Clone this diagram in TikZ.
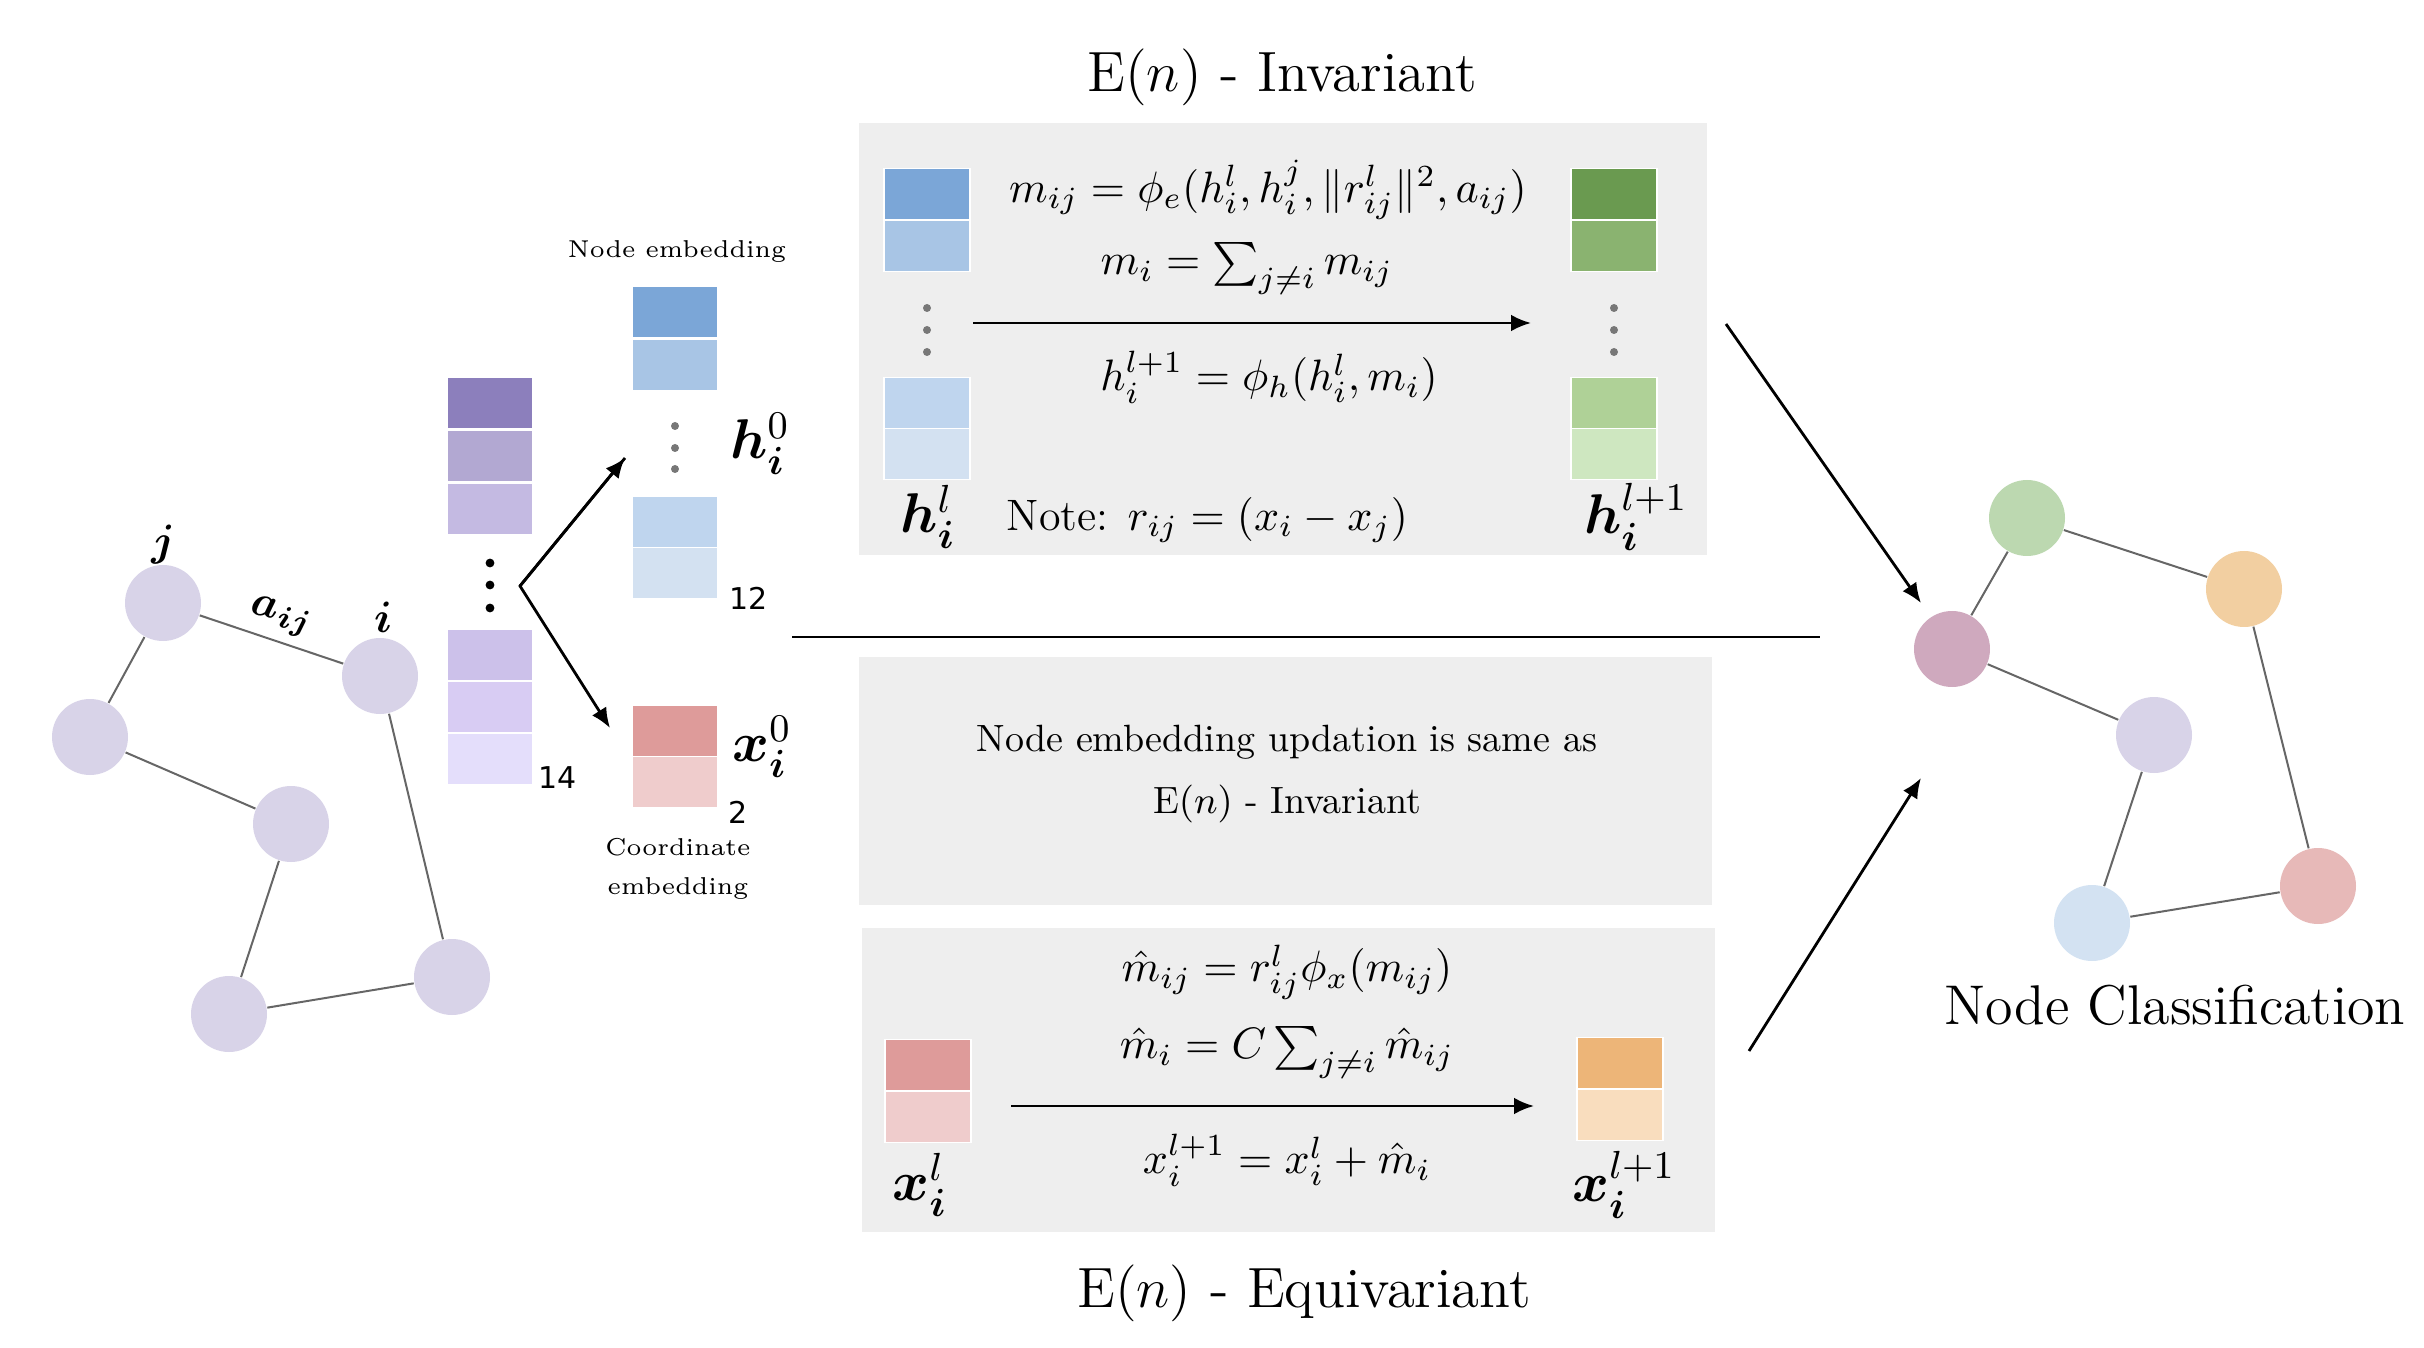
\RequirePackage{fix-cm}
\documentclass[tikz,border=0pt]{standalone}
\usepackage{amsmath}
\usepackage{bm}
\usepackage{fontspec}
\newfontfamily\numfont{DejaVu Sans}
\usetikzlibrary{arrows.meta}
\definecolor{pA}{HTML}{8C7FBC}
\definecolor{pB}{HTML}{B2A8D2}
\definecolor{pC}{HTML}{C4BAE2}
\definecolor{pD}{HTML}{CCC1EA}
\definecolor{pE}{HTML}{D8CCF3}
\definecolor{pF}{HTML}{E4DEFB}
\definecolor{bA}{HTML}{7BA6D7}
\definecolor{bB}{HTML}{A8C5E5}
\definecolor{bC}{HTML}{BFD5EE}
\definecolor{bD}{HTML}{D3E1F1}
\definecolor{gA}{HTML}{6A9A50}
\definecolor{gB}{HTML}{8AB370}
\definecolor{gC}{HTML}{AFD197}
\definecolor{gD}{HTML}{CEE7C0}
\definecolor{rA}{HTML}{DE9B9A}
\definecolor{rB}{HTML}{EFCCCC}
\definecolor{oA}{HTML}{EDB578}
\definecolor{oB}{HTML}{F9DDBE}
\definecolor{boxgray}{HTML}{EEEEEE}
\definecolor{lav}{HTML}{D8D3E8}
\definecolor{edgegray}{HTML}{666666}
\definecolor{dotgray}{HTML}{777777}
\definecolor{cMauve}{HTML}{CFA9BE}
\definecolor{cGreen}{HTML}{BCD8B0}
\definecolor{cOrange}{HTML}{F2CFA1}
\definecolor{cBlue}{HTML}{D3E2F2}
\definecolor{cPink}{HTML}{E7B9B8}
\begin{document}
\begin{tikzpicture}[x=0.25pt,y=-0.25pt,
  cell/.style={rectangle,draw=white,line width=0.4pt,minimum width=21.5pt,minimum height=12.75pt,inner sep=0pt},
  gnode/.style={circle,minimum size=19pt,inner sep=0pt,fill=lav},
  gedge/.style={draw=edgegray,line width=0.5pt},
  arr/.style={-{Latex[length=5pt,width=4.2pt]},line width=0.7pt},
  gbox/.style={fill=boxgray,draw=none},
  gdot/.style={circle,fill=dotgray,minimum size=2pt,inner sep=0pt},
  bdot/.style={circle,fill=black,minimum size=2.2pt,inner sep=0pt},
  eqn/.style={font=\fontsize{11}{13}\selectfont,inner sep=0pt},
  big/.style={font=\fontsize{14.2}{17}\selectfont,inner sep=0pt},
  small/.style={font=\fontsize{6.1}{9.6}\selectfont,inner sep=0pt,align=center},
  num/.style={font=\numfont\fontsize{7.5}{9}\selectfont,inner sep=0pt},
  blab/.style={font=\fontsize{14}{16}\selectfont,inner sep=0pt}
]
\useasboundingbox (0,0) rectangle (2424,1348);

% gray boxes
\node[gbox,minimum width=212pt,minimum height=108pt,inner sep=0pt] (topbox) at (1283,339) {};
\node[gbox,minimum width=213.25pt,minimum height=62pt,inner sep=0pt] (midbox) at (1285.5,781) {};
\node[gbox,minimum width=213.25pt,minimum height=76pt,inner sep=0pt] (botbox) at (1288.5,1080) {};

% ---------- left input graph ----------
\node[gnode] (gj) at (163,603) {};
\node[gnode] (gi) at (380,676) {};
\node[gnode] (gl) at (90,737) {};
\node[gnode] (gm) at (291,824) {};
\node[gnode] (gbl) at (229,1014) {};
\node[gnode] (gbr) at (452,977) {};
\draw[gedge] (gj) -- (gi);
\draw[gedge] (gj) -- (gl);
\draw[gedge] (gl) -- (gm);
\draw[gedge] (gm) -- (gbl);
\draw[gedge] (gbl) -- (gbr);
\draw[gedge] (gbr) -- (gi);
\node[font=\fontsize{11}{13}\selectfont,inner sep=0pt] (lj) at (163,545) {$\bm{j}$};
\node[font=\fontsize{11}{13}\selectfont,inner sep=0pt,rotate=-12] (laij) at (281,617) {$\bm{a_{ij}}$};
\node[font=\fontsize{11}{13}\selectfont,inner sep=0pt] (li) at (383,617) {$\bm{i}$};

% ---------- purple input stack ----------
\node[cell,fill=pA] (p1) at (490,403) {};
\node[cell,fill=pB] (p2) at (490,456) {};
\node[cell,fill=pC] (p3) at (490,509) {};
\node[bdot] (pd1) at (490,563) {};
\node[bdot] (pd2) at (490,585) {};
\node[bdot] (pd3) at (490,608) {};
\node[cell,fill=pD] (p4) at (490,655) {};
\node[cell,fill=pE] (p5) at (490,707) {};
\node[cell,fill=pF] (p6) at (490,759) {};
\node[num] (n14) at (558,778) {14};

% split arrows
\coordinate (split) at (520,586);
\coordinate (hup) at (625,458);
\coordinate (xdown) at (610,728);
\draw[arr,line join=miter] (hup) -- (split) -- (xdown);
\draw[arr] (split) -- (hup);

% ---------- node embedding h^0 ----------
\node[small] (nelab) at (677,252) {Node embedding};
\node[cell,fill=bA] (h1) at (675,312) {};
\node[cell,fill=bB] (h2) at (675,365) {};
\node[gdot] (hd1) at (675,426) {};
\node[gdot] (hd2) at (675,448) {};
\node[gdot] (hd3) at (675,469) {};
\node[cell,fill=bC] (h3) at (675,522) {};
\node[cell,fill=bD] (h4) at (675,573) {};
\node[num] (n12) at (749,598) {12};
\node[blab] (h0lab) at (760,444) {$\bm{h}_{\bm{i}}^{0}$};

% ---------- coordinate embedding x^0 ----------
\node[cell,fill=rA] (x1) at (675,731) {};
\node[cell,fill=rB] (x2) at (675,782) {};
\node[num] (n2) at (738,812) {2};
\node[blab] (x0lab) at (762,747) {$\bm{x}_{\bm{i}}^{0}$};
\node[small] (celab) at (678,869) {Coordinate\\embedding};

% ---------- E(n) invariant ----------
\node[big] (titleinv) at (1282,77) {E$(n)$ - Invariant};
\node[cell,fill=bA] (t1) at (927,194) {};
\node[cell,fill=bB] (t2) at (927,246) {};
\node[gdot] (td1) at (927,308) {};
\node[gdot] (td2) at (927,330) {};
\node[gdot] (td3) at (927,352) {};
\node[cell,fill=bC] (t3) at (927,403) {};
\node[cell,fill=bD] (t4) at (927,454) {};
\node[cell,fill=gA] (u1) at (1614,194) {};
\node[cell,fill=gB] (u2) at (1614,246) {};
\node[gdot] (ud1) at (1614,308) {};
\node[gdot] (ud2) at (1614,330) {};
\node[gdot] (ud3) at (1614,352) {};
\node[cell,fill=gC] (u3) at (1614,403) {};
\node[cell,fill=gD] (u4) at (1614,454) {};
\coordinate (tarS) at (973,323);
\coordinate (tarE) at (1531,323);
\draw[arr] (tarS) -- (tarE);
\node[eqn] (eq1) at (1268,190) {$m_{ij} = \phi_e(h_i^l, h_i^j, \|r_{ij}^l\|^2, a_{ij})$};
\node[eqn] (eq2) at (1247,268) {$m_i = \sum_{j\neq i} m_{ij}$};
\node[eqn] (eq3) at (1269,377) {$h_i^{l+1} = \phi_h(h_i^l, m_i)$};
\node[eqn,anchor=west] (note) at (1006,520) {Note: $r_{ij} = (x_i - x_j)$};
\node[blab] (hl) at (928,517) {$\bm{h}_{\bm{i}}^{l}$};
\node[blab] (hl1) at (1636,517) {$\bm{h}_{\bm{i}}^{l+1}$};

% divider
\coordinate (dvS) at (792,637);
\coordinate (dvE) at (1820,637);
\draw[line width=0.6pt] (dvS) -- (dvE);

% middle box text
\node[font=\fontsize{9.5}{12}\selectfont,inner sep=0pt] (mt1) at (1287,742) {Node embedding updation is same as};
\node[font=\fontsize{9.5}{12}\selectfont,inner sep=0pt] (mt2) at (1287,804) {E$(n)$ - Invariant};

% ---------- E(n) equivariant ----------
\node[cell,fill=rA] (v1) at (928,1065) {};
\node[cell,fill=rB] (v2) at (928,1117) {};
\node[cell,fill=oA] (w1) at (1620,1063) {};
\node[cell,fill=oB] (w2) at (1620,1115) {};
\coordinate (barS) at (1011,1106);
\coordinate (barE) at (1534,1106);
\draw[arr] (barS) -- (barE);
\node[eqn] (eq4) at (1287,972) {$\hat{m}_{ij} = r_{ij}^l\phi_x(m_{ij})$};
\node[eqn] (eq5) at (1287,1052) {$\hat{m}_i = C\sum_{j\neq i}\hat{m}_{ij}$};
\node[eqn] (eq6) at (1287,1160) {$x_i^{l+1} = x_i^l + \hat{m}_i$};
\node[blab] (xl) at (920,1185) {$\bm{x}_{\bm{i}}^{l}$};
\node[blab] (xl1) at (1624,1185) {$\bm{x}_{\bm{i}}^{l+1}$};
\node[big] (titleeq) at (1304,1293) {E$(n)$ - Equivariant};

% ---------- output ----------
\coordinate (oaS) at (1726,324);
\coordinate (oaE) at (1921,603);
\coordinate (obS) at (1749,1051);
\coordinate (obE) at (1921,778);
\draw[arr] (oaS) -- (oaE);
\draw[arr] (obS) -- (obE);

\node[gnode,fill=cMauve] (rp) at (1952,649) {};
\node[gnode,fill=cGreen] (rg) at (2027,518) {};
\node[gnode,fill=cOrange] (ro) at (2244,589) {};
\node[gnode,fill=lav] (rl) at (2154,735) {};
\node[gnode,fill=cBlue] (rb) at (2092,923) {};
\node[gnode,fill=cPink] (rr) at (2318,886) {};
\draw[gedge] (rp) -- (rg);
\draw[gedge] (rg) -- (ro);
\draw[gedge] (rp) -- (rl);
\draw[gedge] (rl) -- (rb);
\draw[gedge] (rb) -- (rr);
\draw[gedge] (ro) -- (rr);
\node[font=\fontsize{14}{16}\selectfont,inner sep=0pt] (nclab) at (2175,1005) {Node Classification};
\end{tikzpicture}
\end{document}
